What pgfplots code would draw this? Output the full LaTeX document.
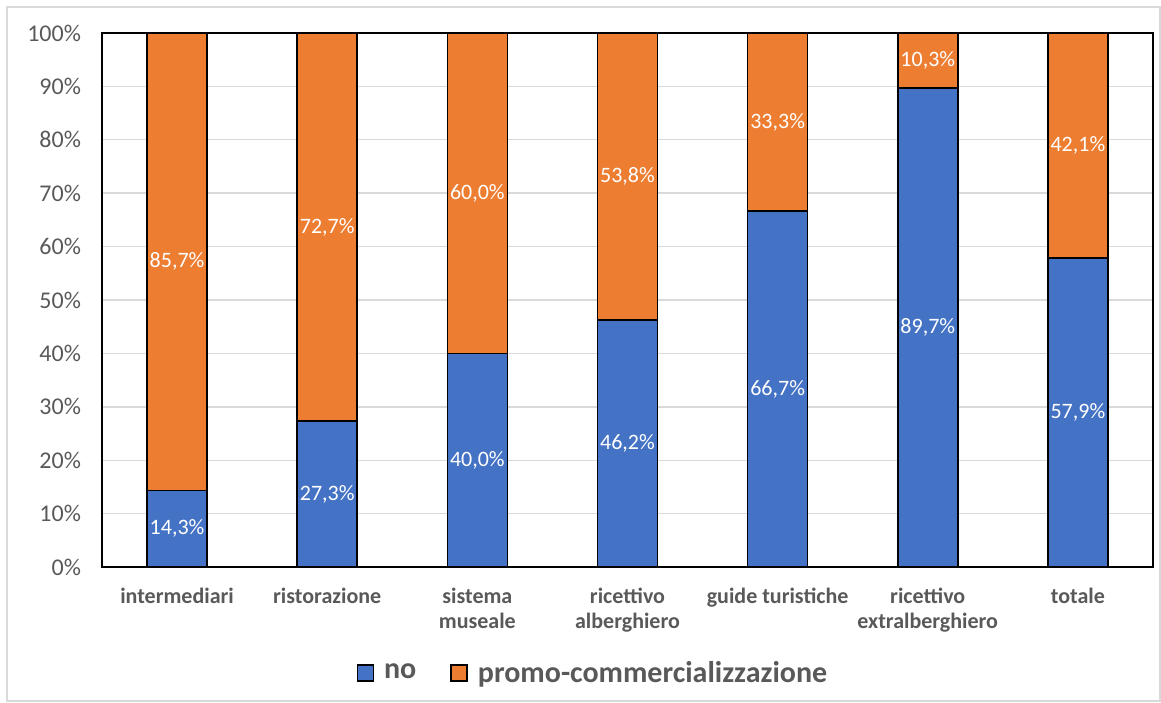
\documentclass[border=0pt]{standalone}
\usepackage{pgfplots}
\pgfplotsset{compat=1.18}
\usepackage{fontspec}
\setmainfont{Carlito}
\definecolor{cblue}{HTML}{4472C4}
\definecolor{corange}{HTML}{ED7D31}
\definecolor{cgrid}{HTML}{D9D9D9}
\definecolor{ctext}{HTML}{595959}
\begin{document}
\begin{tikzpicture}
\begin{axis}[
  at={(51pt,67.5pt)}, anchor=south west,
  scale only axis, width=525.5pt, height=267pt,
  xmin=-0.5, xmax=6.5, ymin=0, ymax=100,
  axis line style={black, line width=0.6pt},
  ymajorgrids, grid style={cgrid, line width=0.7pt},
  major tick length=0pt,
  xtick={0,1,2,3,4,5,6},
  xticklabels={intermediari, ristorazione, {sistema\\museale}, {ricettivo\\alberghiero}, guide turistiche, {ricettivo\\extralberghiero}, totale},
  xticklabel style={align=center, font=\fontsize{11}{12.5}\selectfont\bfseries, text=ctext, anchor=north, yshift=-7pt},
  ytick={0,10,20,30,40,50,60,70,80,90,100},
  yticklabels={0\%,10\%,20\%,30\%,40\%,50\%,60\%,70\%,80\%,90\%,100\%},
  yticklabel style={font=\fontsize{12}{14}\selectfont, text=ctext, xshift=-7pt},
  bar width=30pt,
  legend style={at={(0.468,-0.1985)}, anchor=center, draw=none, legend columns=-1,
    font=\fontsize{15}{17}\selectfont\bfseries, text=ctext,
    /tikz/every odd column/.append style={column sep=3pt},
    /tikz/every even column/.append style={column sep=15pt}},
  legend image code/.code={\draw[#1, line width=0.8pt] (0pt,-4pt) rectangle (8pt,4pt);},
]
\addplot[ybar, bar shift=0pt, fill=corange, draw=black, line width=0.8pt, forget plot]
  coordinates {(0,100) (1,100) (2,100) (3,100) (4,100) (5,100) (6,100)};
\addplot[ybar, bar shift=0pt, fill=cblue, draw=black, line width=0.8pt, forget plot]
  coordinates {(0,14.3) (1,27.3) (2,40.0) (3,46.2) (4,66.7) (5,89.7) (6,57.9)};
\addplot[only marks, mark=none, forget plot, point meta=explicit symbolic,
  nodes near coords, every node near coord/.style={anchor=center, text=white, font=\fontsize{11}{13}\selectfont}]
  coordinates {(0,7.15)[14,3\%] (1,13.65)[27,3\%] (2,20.0)[40,0\%] (3,23.1)[46,2\%] (4,33.35)[66,7\%] (5,44.85)[89,7\%] (6,28.95)[57,9\%]};
\addplot[only marks, mark=none, forget plot, point meta=explicit symbolic,
  nodes near coords, every node near coord/.style={anchor=center, text=white, font=\fontsize{11}{13}\selectfont}]
  coordinates {(0,57.15)[85,7\%] (1,63.65)[72,7\%] (2,70.0)[60,0\%] (3,73.1)[53,8\%] (4,83.35)[33,3\%] (5,94.85)[10,3\%] (6,78.95)[42,1\%]};
\addlegendimage{fill=cblue, draw=black}
\addlegendentry{no}
\addlegendimage{fill=corange, draw=black}
\addlegendentry{promo-commercializzazione}
\end{axis}
\draw[cgrid, line width=0.8pt] (3.5pt,0.5pt) rectangle (580pt,347.5pt);
\pgfresetboundingbox
\useasboundingbox (0,0) rectangle (580.5pt,351pt);
\end{tikzpicture}
\end{document}
